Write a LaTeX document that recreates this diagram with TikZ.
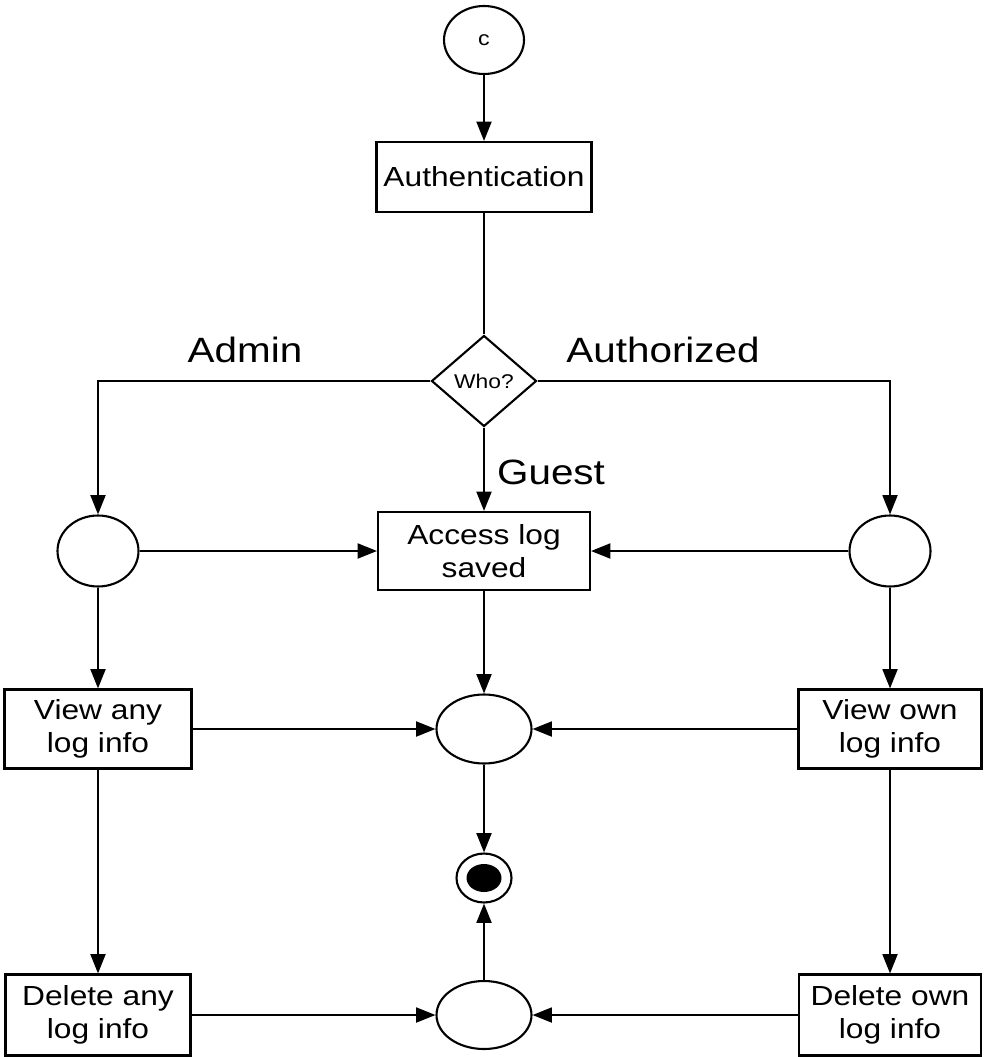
\documentclass[tikz,border=0pt]{standalone}
\usepackage{fontspec}
\setmainfont{Liberation Sans}[FakeStretch=1.15]
\usetikzlibrary{shapes.geometric,arrows.meta}
\begin{document}
\begin{tikzpicture}[x=0.02cm,y=-0.02cm,
  every node/.style={inner sep=0pt},
  box/.style={draw,line width=1.2pt,fill=white,align=center,
    font=\fontsize{15.7}{18.7}\selectfont},
  state/.style={draw,ellipse,line width=1.2pt,fill=white},
  lbl/.style={font=\fontsize{20}{24}\selectfont},
  flow/.style={line width=1.2pt,-{Triangle[length=11pt,width=8.5pt]}},
  plain/.style={line width=1.2pt}]
\useasboundingbox (0,0) rectangle (984,1057);
% start and authentication
\node[state,minimum width=1.6cm,minimum height=1.36cm,
  font=\fontsize{11.5}{13}\selectfont] (start) at (484,40) {c};
\node[box,minimum width=4.3cm,minimum height=1.4cm] (auth) at (484,177) {Authentication};
\node[draw,diamond,line width=1.2pt,minimum width=2.1cm,minimum height=1.82cm,
  font=\fontsize{11.3}{13}\selectfont] (who) at (484,381) {Who?};
% role branches
\node[state,minimum width=1.62cm,minimum height=1.42cm] (lc) at (98,551) {};
\node[state,minimum width=1.62cm,minimum height=1.42cm] (rc) at (890,551) {};
\node[box,minimum width=4.24cm,minimum height=1.56cm] (access) at (484,551) {Access log\\saved};
\node[box,minimum width=3.74cm,minimum height=1.58cm] (viewany) at (98,729) {View any\\log info};
\node[box,minimum width=3.66cm,minimum height=1.58cm] (viewown) at (890,729) {View own\\log info};
\node[state,minimum width=1.9cm,minimum height=1.38cm] (m1) at (484,729) {};
\node[box,minimum width=3.7cm,minimum height=1.62cm] (delany) at (98,1015) {Delete any\\log info};
\node[box,minimum width=3.64cm,minimum height=1.62cm] (delown) at (890,1015) {Delete own\\log info};
\node[state,minimum width=1.9cm,minimum height=1.36cm] (m2) at (484,1015) {};
% final state
\node[state,minimum width=1.1cm,minimum height=0.98cm] (final) at (484,878) {};
\node[ellipse,fill=black,minimum width=0.7cm,minimum height=0.56cm] (finaldot) at (final) {};
% labels
\node[lbl] (ladmin) at (245,350) {Admin};
\node[lbl] (lauth) at (663,350) {Authorized};
\node[lbl] (lguest) at (551,472) {Guest};
% connectors
\draw[flow] (start) -- (auth);
\draw[plain] (auth) -- (who);
\draw[flow] (who.west) -| (lc.north);
\draw[flow] (who.east) -| (rc.north);
\draw[flow] (who) -- (access);
\draw[flow] (lc) -- (access);
\draw[flow] (rc) -- (access);
\draw[flow] (lc) -- (viewany);
\draw[flow] (rc) -- (viewown);
\draw[flow] (viewany) -- (delany);
\draw[flow] (viewown) -- (delown);
\draw[flow] (access) -- (m1);
\draw[flow] (viewany) -- (m1);
\draw[flow] (viewown) -- (m1);
\draw[flow] (m1) -- (final);
\draw[flow] (m2) -- (final);
\draw[flow] (delany) -- (m2);
\draw[flow] (delown) -- (m2);
\end{tikzpicture}
\end{document}
